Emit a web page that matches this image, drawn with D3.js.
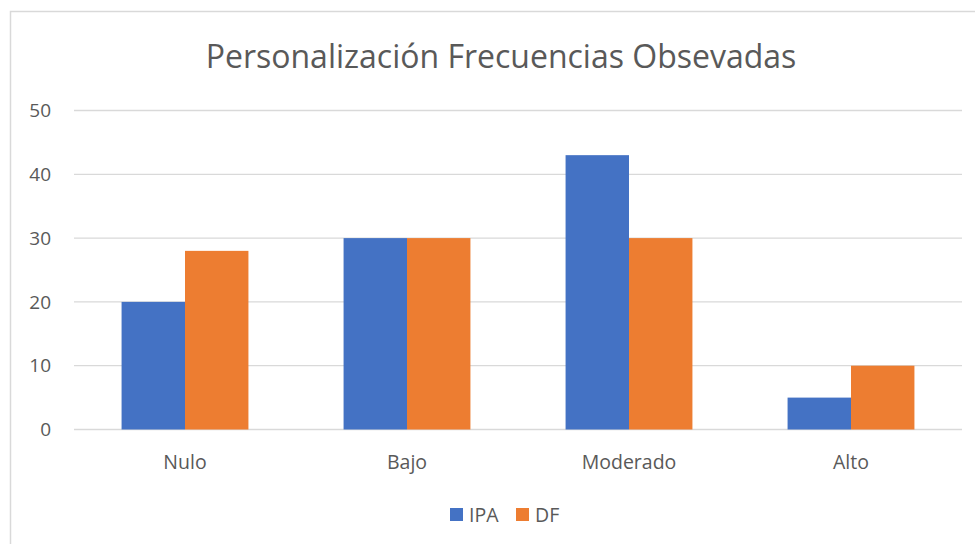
<!DOCTYPE html>
<html>
<head>
<meta charset="utf-8">
<script src="https://cdn.jsdelivr.net/npm/d3@7"></script>
<style>
  body { margin: 0; background: #fff; }
  text { font-family: "Open Sans", "Noto Sans", sans-serif; fill: #595959; }
</style>
</head>
<body>
<div id="chart"></div>
<script>
// Data
const categories = ["Nulo", "Bajo", "Moderado", "Alto"];
const seriesNames = ["IPA", "DF"];
const ipaValues = [20, 30, 43, 5];
const dfValues = [28, 30, 30, 10];
const yTicks = [0, 10, 20, 30, 40, 50];
const colors = ["#4472C4", "#ED7D31"];

const W = 975, H = 544;
const margin = {top: 110.5, right: 13, bottom: 114.5, left: 74};
const width = W - margin.left - margin.right,
      height = H - margin.top - margin.bottom;

const svg = d3.select("#chart")
  .append("svg")
    .attr("width", W)
    .attr("height", H);

// Chart border
svg.append("rect")
  .attr("x", 10.5)
  .attr("y", 11.5)
  .attr("width", W)
  .attr("height", H)
  .attr("fill", "none")
  .attr("stroke", "#d9d9d9")
  .attr("stroke-width", 1.5);

// Title
svg.append("text")
  .attr("x", 501)
  .attr("y", 68)
  .attr("text-anchor", "middle")
  .style("font-size", "32px")
  .text("Personalización Frecuencias Obsevadas");

const g = svg.append("g")
  .attr("transform", `translate(${margin.left},${margin.top})`);

const x0 = d3.scaleBand()
  .domain(categories)
  .range([0, width])
  .paddingInner(0)
  .paddingOuter(0);

// gap width ~150% of a bar
const barW = x0.bandwidth() / (seriesNames.length + 1.5);
const x1 = d3.scaleBand()
  .domain(seriesNames)
  .range([0, barW * seriesNames.length]);

const y = d3.scaleLinear()
  .domain([0, 50])
  .range([height, 0]);

// Gridlines
g.selectAll(".grid")
  .data(yTicks)
  .enter()
  .append("line")
    .attr("x1", 0)
    .attr("x2", width)
    .attr("y1", d => y(d))
    .attr("y2", d => y(d))
    .attr("stroke", "#d9d9d9")
    .attr("stroke-width", 1.3);

// Y labels
g.selectAll(".ylabel")
  .data(yTicks)
  .enter()
  .append("text")
    .attr("x", -23)
    .attr("y", d => y(d))
    .attr("dy", "0.35em")
    .attr("text-anchor", "end")
    .style("font-size", "19px")
    .text(d => d);

// Bars
const rows = categories.map((c, i) => ({cat: c, vals: [ipaValues[i], dfValues[i]]}));
const groups = g.selectAll(".cat")
  .data(rows)
  .enter()
  .append("g")
    .attr("transform", d => `translate(${x0(d.cat) + (x0.bandwidth() - barW * 2) / 2},0)`);

groups.selectAll("rect")
  .data(d => d.vals.map((v, j) => ({name: seriesNames[j], v: v, j: j})))
  .enter()
  .append("rect")
    .attr("x", d => x1(d.name))
    .attr("y", d => y(d.v))
    .attr("width", x1.bandwidth())
    .attr("height", d => height - y(d.v))
    .attr("fill", d => colors[d.j]);

// Category labels
g.selectAll(".xlabel")
  .data(categories)
  .enter()
  .append("text")
    .attr("x", d => x0(d) + x0.bandwidth() / 2)
    .attr("y", height + 39)
    .attr("text-anchor", "middle")
    .style("font-size", "19.5px")
    .text(d => d);

// Legend
const legendItems = [{name: "IPA", x: 450}, {name: "DF", x: 516}];
const legend = svg.selectAll(".legend")
  .data(legendItems)
  .enter()
  .append("g")
    .attr("transform", d => `translate(${d.x},508)`);

legend.append("rect")
  .attr("width", 13)
  .attr("height", 13)
  .attr("fill", (d, i) => colors[i]);

legend.append("text")
  .attr("x", 19)
  .attr("y", 14)
  .style("font-size", "19.5px")
  .text(d => d.name);
</script>
</body>
</html>
